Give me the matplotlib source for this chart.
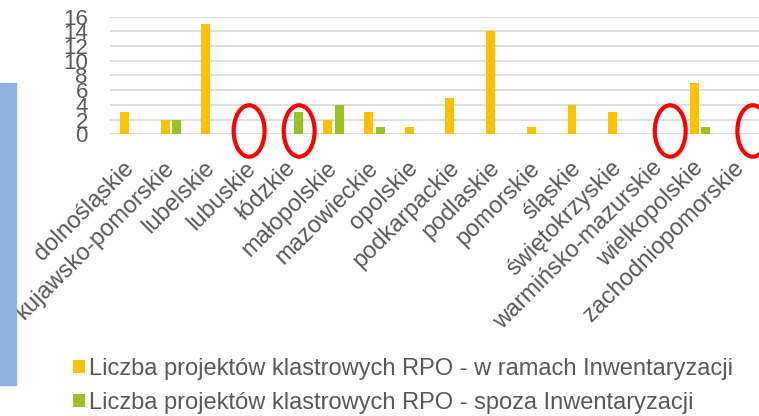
import matplotlib
matplotlib.use('Agg')
import matplotlib.pyplot as plt
from matplotlib.patches import Ellipse, Rectangle
import numpy as np

plt.rcParams['font.family'] = ['Liberation Sans', 'DejaVu Sans']

regions = ['dolnośląskie', 'kujawsko-pomorskie', 'lubelskie', 'lubuskie', 'łódzkie',
           'małopolskie', 'mazowieckie', 'opolskie', 'podkarpackie', 'podlaskie',
           'pomorskie', 'śląskie', 'świętokrzyskie', 'warmińsko-mazurskie',
           'wielkopolskie', 'zachodniopomorskie']
in_inventory = [3, 2, 15, 0, 0, 2, 3, 1, 5, 14, 1, 4, 3, 0, 7, 0]
outside_inventory = [0, 2, 0, 0, 3, 4, 1, 0, 0, 0, 0, 0, 0, 0, 1, 0]
y_ticks = [0, 2, 4, 6, 8, 10, 12, 14, 16]
label_in = 'Liczba projektów klastrowych RPO - w ramach Inwentaryzacji'
label_out = 'Liczba projektów klastrowych RPO - spoza Inwentaryzacji'

# categories with red circles drawn on top of the chart
circled = ['lubuskie', 'łódzkie', 'warmińsko-mazurskie', 'zachodniopomorskie']
circle_shift = [-0.08, 0.15, 0.27, 0.3]

text_col = '#595959'
fig = plt.figure(figsize=(7.59, 4.16), dpi=100)
ax = fig.add_axes([0.1449, 0.6772, 0.8577, 0.2827])

x = np.arange(len(regions))
w = 0.22
ax.bar(x - 0.145, in_inventory, w, color='#FFC000', label=label_in, zorder=3)
ax.bar(x + 0.145, outside_inventory, w, color='#9BC225', label=label_out, zorder=3)

ax.set_xlim(-0.5, len(regions) - 0.5)
ax.set_ylim(0, 16)
ax.set_yticks(y_ticks)
ax.set_yticklabels([str(v) for v in y_ticks], fontsize=16, color=text_col)
ax.yaxis.grid(True, color='#D9D9D9', linewidth=1.2, zorder=0)
ax.set_xticks(x)
ax.set_xticklabels(regions, rotation=45, ha='right', va='center',
                   rotation_mode='anchor', fontsize=17, color=text_col)
ax.tick_params(axis='both', length=0)
ax.tick_params(axis='y', pad=16)
ax.tick_params(axis='x', pad=22)
for s in ax.spines.values():
    s.set_visible(False)

for name, dx in zip(circled, circle_shift):
    i = regions.index(name)
    e = Ellipse((i + dx, 0.45), 0.76, 7.0, fill=False, edgecolor='red',
                linewidth=3, zorder=5, clip_on=False)
    ax.add_patch(e)

fig.patches.append(Rectangle((0, 1 - 385 / 416), 16 / 759, (385 - 83) / 416,
                             transform=fig.transFigure, color='#8DB3E2'))

fig.legend(loc='upper left', bbox_to_anchor=(0.096, 1 - 358 / 416), frameon=False,
           fontsize=17, handlelength=0.5, handleheight=0.5, handletextpad=0.18,
           labelspacing=0.5, borderpad=0, borderaxespad=0, labelcolor=text_col)

fig.savefig('out.png', dpi=100)
